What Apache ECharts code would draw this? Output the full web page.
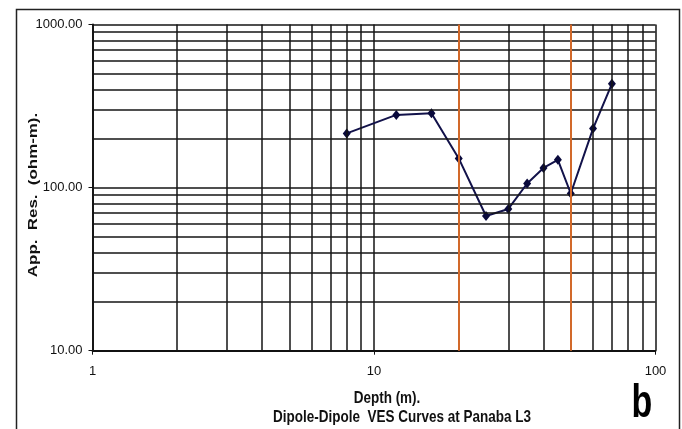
<!DOCTYPE html>
<html>
<head>
<meta charset="utf-8">
<script src="https://cdn.jsdelivr.net/npm/echarts@6/dist/echarts.min.js"></script>
<style>
html,body{margin:0;padding:0;background:#fff;}
#chart{width:682px;height:429px;}
</style>
</head>
<body>
<div id="chart"></div>
<script>
// ---- data ----
const depth = [8, 12, 16, 20, 25, 30, 35, 40, 45, 50, 60, 70];
const appRes = [215, 279, 286, 151, 67, 74, 106, 132, 148, 92, 230, 433];
const xMinorGrid = [2, 3, 4, 5, 6, 7, 8, 9, 20, 30, 40, 50, 60, 70, 80, 90];
const yMinorGrid = [20, 30, 40, 50, 60, 70, 80, 90, 200, 300, 400, 500, 600, 700, 800, 900];
const boundaryDepths = [20, 50];
const xRange = [1, 100];
const yRange = [10, 1000];
const yAxisTitle = 'App.  Res.  (ohm-m).';
const xAxisTitle = 'Depth (m).';
const chartTitle = 'Dipole-Dipole  VES Curves at Panaba L3';
const panelLetter = 'b';

const chart = echarts.init(document.getElementById('chart'), null, {renderer: 'canvas'});
const gridColor = '#151515';
const gridWidth = 1.5;
const fontFam = '"Liberation Sans", Arial, sans-serif';

const minorLines = [];
xMinorGrid.forEach(v => minorLines.push({xAxis: v}));
yMinorGrid.forEach(v => minorLines.push({yAxis: v}));

const option = {
  animation: false,
  backgroundColor: '#fff',
  grid: {left: 92.5, right: 26.5, top: 24.5, bottom: 78.3, containLabel: false},
  xAxis: {
    type: 'log', logBase: 10, min: xRange[0], max: xRange[1],
    axisLine: {show: true, onZero: false, lineStyle: {color: '#111', width: 1.8}},
    axisTick: {show: true, length: 4, lineStyle: {color: '#111'}},
    axisLabel: {color: '#111', fontSize: 13, fontFamily: fontFam, margin: 14},
    splitLine: {show: true, lineStyle: {color: gridColor, width: gridWidth}},
    minorTick: {show: false}, minorSplitLine: {show: false}
  },
  yAxis: {
    type: 'log', logBase: 10, min: yRange[0], max: yRange[1],
    axisLine: {show: true, onZero: false, lineStyle: {color: '#111', width: 1.8}},
    axisTick: {show: true, length: 4, lineStyle: {color: '#111'}},
    axisLabel: {color: '#111', fontSize: 13, fontFamily: fontFam, margin: 10,
      formatter: v => Number(v).toFixed(2)},
    splitLine: {show: true, lineStyle: {color: gridColor, width: gridWidth}},
    minorTick: {show: false}, minorSplitLine: {show: false}
  },
  series: [
    {
      type: 'line', data: [], z: 1, silent: true,
      markLine: {
        silent: true, symbol: ['none', 'none'], label: {show: false},
        lineStyle: {color: gridColor, width: gridWidth, type: 'solid'},
        emphasis: {disabled: true},
        data: minorLines
      }
    },
    {
      type: 'line', data: [], z: 2, silent: true,
      markLine: {
        silent: true, symbol: ['none', 'none'], label: {show: false},
        lineStyle: {color: '#d2692a', width: 2, type: 'solid'},
        emphasis: {disabled: true},
        data: boundaryDepths.map(v => ({xAxis: v}))
      }
    },
    {
      type: 'line', z: 3,
      data: depth.map((d, i) => [d, appRes[i]]),
      symbol: 'diamond', symbolSize: [8, 10],
      lineStyle: {color: '#12124a', width: 2},
      itemStyle: {color: '#0a0a3c'}
    }
  ],
  graphic: [
    {type: 'rect', left: 14, top: 7, silent: true,
      shape: {width: 663, height: 440},
      style: {fill: 'none', stroke: '#222', lineWidth: 1.5}},
    {type: 'text', x: 33, y: 195, rotation: Math.PI / 2, scaleX: 1.3, silent: true,
      style: {text: yAxisTitle, fill: '#111', font: 'bold 13px ' + fontFam,
        align: 'center', verticalAlign: 'middle'}},
    {type: 'text', x: 387, y: 398, scaleY: 1.25, silent: true,
      style: {text: xAxisTitle, fill: '#111', font: 'bold 13.5px ' + fontFam,
        align: 'center', verticalAlign: 'middle'}},
    {type: 'text', x: 402, y: 417, scaleY: 1.25, silent: true,
      style: {text: chartTitle, fill: '#111', font: 'bold 13.5px ' + fontFam,
        align: 'center', verticalAlign: 'middle'}},
    {type: 'text', x: 642, y: 404, scaleY: 1.35, silent: true,
      style: {text: panelLetter, fill: '#000', font: 'bold 34px ' + fontFam,
        align: 'center', verticalAlign: 'middle'}}
  ]
};
chart.setOption(option);
</script>
</body>
</html>
